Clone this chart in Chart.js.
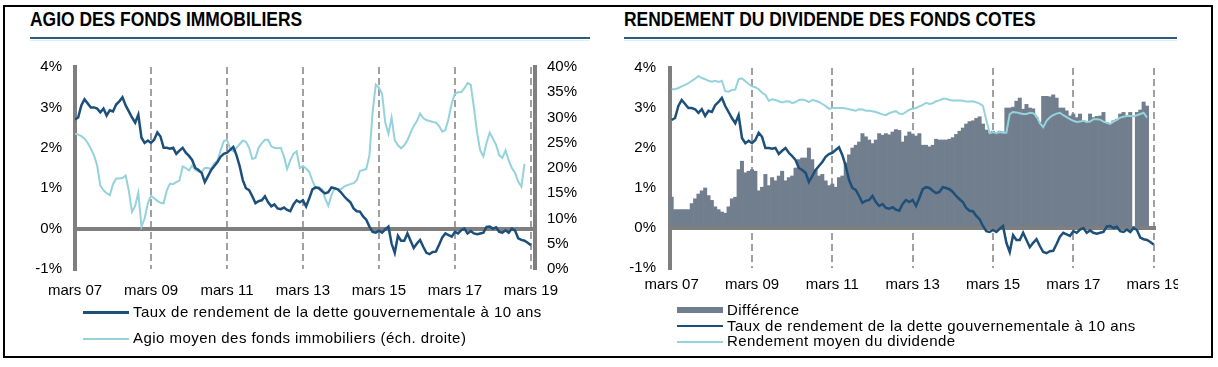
<!DOCTYPE html>
<html>
<head>
<meta charset="utf-8">
<script src="https://cdn.jsdelivr.net/npm/chart.js@4.4.0/dist/chart.umd.min.js"></script>
<style>
  body { margin: 0; background: #fff; width: 1218px; height: 367px; overflow: hidden; position: relative;
         font-family: "Liberation Sans", Arial, sans-serif; color: #000; }
  #frame { position: absolute; left: 3px; top: 5px; width: 1206px; height: 349px; border: 2px solid #000; }
  .title { position: absolute; top: 7px; font: bold 21px "Liberation Sans", Arial, sans-serif;
           transform: scaleX(0.83); transform-origin: left top; white-space: nowrap; }
  .rule { position: absolute; top: 37px; height: 2px; background: #2b5c7d; }
  .rule2 { position: absolute; top: 40px; height: 1px; background: #dcf0f3; }
  .box { position: absolute; overflow: hidden; }
  .leg { position: absolute; font-size: 15px; white-space: nowrap; line-height: 18px; letter-spacing: 0.45px; }
  .swatch { position: absolute; }
</style>
</head>
<body>
<div id="frame"></div>

<div class="title" style="left:30px">AGIO DES FONDS IMMOBILIERS</div>
<div class="rule" style="left:30px;width:560px"></div>
<div class="rule2" style="left:30px;width:560px"></div>
<div class="title" style="left:624px">RENDEMENT DU DIVIDENDE DES FONDS COTES</div>
<div class="rule" style="left:624px;width:553px"></div>
<div class="rule2" style="left:624px;width:553px"></div>

<div class="box" style="left:0;top:45px;width:600px;height:262px"><canvas id="agioChart" width="600" height="262"></canvas></div>
<div class="box" style="left:600px;top:45px;width:578px;height:262px"><canvas id="divChart" width="620" height="262"></canvas></div>

<!-- left legend -->
<div class="swatch" style="left:83px;top:311px;width:46px;height:3px;background:#1d4f7b"></div>
<div class="leg" style="left:133px;top:303px">Taux de rendement de la dette gouvernementale à 10 ans</div>
<div class="swatch" style="left:83px;top:338px;width:46px;height:2px;background:#94d2dc"></div>
<div class="leg" style="left:133px;top:329px">Agio moyen des fonds immobiliers (éch. droite)</div>

<!-- right legend -->
<div class="swatch" style="left:677px;top:307px;width:46px;height:6px;background:#717e8d"></div>
<div class="leg" style="left:727px;top:301px">Différence</div>
<div class="swatch" style="left:677px;top:325px;width:46px;height:2px;background:#1d4f7b"></div>
<div class="leg" style="left:727px;top:317px">Taux de rendement de la dette gouvernementale à 10 ans</div>
<div class="swatch" style="left:677px;top:341px;width:46px;height:2px;background:#94d2dc"></div>
<div class="leg" style="left:727px;top:332px">Rendement moyen du dividende</div>

<script>
// month index 0 = mars 07
const tickMonths = [0, 24, 48, 72, 96, 120, 144];
const tickLabels = ['mars 07', 'mars 09', 'mars 11', 'mars 13', 'mars 15', 'mars 17', 'mars 19'];

// taux 10 ans (%), monthly
const yield10 = [
  2.7, 2.75, 3.05, 3.2, 3.1, 3.0, 3.0, 2.97, 2.88, 2.97,
  2.8, 2.93, 2.9, 3.07, 3.15, 3.25, 3.05, 2.9, 2.75, 2.62,
  2.82, 2.25, 2.12, 2.18, 2.12, 2.2, 2.38, 2.28, 2.0, 2.0,
  1.98, 2.0, 1.85, 1.93, 2.0, 1.88, 1.8, 1.7, 1.5, 1.45,
  1.38, 1.15, 1.3, 1.45, 1.55, 1.65, 1.78, 1.85, 1.88, 1.95,
  2.02, 1.82, 1.55, 1.2, 1.0, 0.95, 0.8, 0.63, 0.68, 0.7,
  0.8, 0.65, 0.55, 0.6, 0.5, 0.48, 0.52, 0.46, 0.43, 0.6,
  0.7, 0.65, 0.7, 0.55, 0.75, 0.97, 1.02, 1.0, 0.93, 0.87,
  0.9, 1.02, 1.0, 0.97, 0.9, 0.8, 0.72, 0.65, 0.5, 0.43,
  0.42, 0.3, 0.22, 0.05, -0.08, -0.1, -0.05, -0.1, -0.02, 0.05,
  -0.37, -0.6, -0.18, -0.3, -0.3, -0.12, -0.3, -0.48, -0.37, -0.28,
  -0.45, -0.6, -0.63, -0.58, -0.57, -0.4, -0.22, -0.12, -0.16, -0.2,
  -0.08, -0.12, -0.04, 0.0, -0.12, -0.06, -0.12, -0.14, -0.12, -0.1,
  0.04, 0.05, 0.0, 0.03, -0.08, -0.1, -0.04, -0.1, 0.0, -0.05,
  -0.24, -0.28, -0.3, -0.35, -0.41
];

// agio moyen des fonds immobiliers (%), right scale
const agio = [
  26.8, 26.6, 26.3, 25.8, 25.0, 23.8, 22.5, 20.5, 16.5, 15.6,
  15.0, 14.6, 16.8, 17.9, 17.9, 18.0, 18.5, 15.5, 11.3, 12.5,
  15.1, 8.4, 10.0, 13.0, 14.5, 14.0, 13.5, 13.1, 13.0, 15.6,
  16.9, 16.8, 17.2, 17.5, 20.3, 20.0, 19.5, 20.5, 19.6, 19.3,
  19.2, 20.0, 20.0, 19.8, 20.9, 21.5, 23.5, 25.3, 25.6, 23.8,
  23.3, 24.0, 24.7, 25.4, 25.2, 24.0, 21.8, 22.0, 24.0, 24.9,
  25.6, 25.6, 24.3, 24.0, 23.9, 24.0, 22.3, 19.8, 21.5, 22.8,
  23.3, 20.0, 20.4, 19.9, 19.2, 17.5, 16.0, 16.2, 15.8, 14.0,
  12.5, 14.6, 16.0, 15.8, 15.8, 16.3, 16.6, 16.8, 17.0, 17.6,
  19.4, 19.6, 19.8, 22.5, 31.0, 36.5, 35.9, 34.7, 29.0, 26.8,
  30.0, 25.5, 24.5, 23.9, 24.5, 25.5, 27.0, 28.3, 29.3, 30.8,
  29.9, 29.5, 29.3, 29.1, 29.0, 28.3, 27.2, 27.5, 29.8, 32.8,
  34.7, 35.0, 35.0, 35.8, 36.8, 36.5, 32.0, 27.0, 23.5, 22.3,
  25.0, 27.0, 25.8, 24.6, 22.5, 22.0, 23.5, 21.5, 20.0, 19.0,
  17.3, 16.3, 20.8
];

// rendement moyen du dividende (%)
const dividend = [
  3.47, 3.47, 3.5, 3.54, 3.58, 3.62, 3.68, 3.73, 3.8, 3.75,
  3.72, 3.68, 3.66, 3.68, 3.65, 3.68, 3.42, 3.41, 3.45, 3.46,
  3.72, 3.74, 3.67, 3.6, 3.54, 3.52, 3.47, 3.38, 3.33, 3.18,
  3.22, 3.2, 3.17, 3.14, 3.16, 3.17, 3.12, 3.15, 3.2, 3.21,
  3.19, 3.15, 3.2, 3.18, 3.15, 3.1, 3.05, 2.98, 3.0, 3.0,
  3.0, 3.0, 2.99, 2.97, 2.95, 2.93, 2.97, 2.96, 2.93, 2.93,
  2.92, 2.9, 2.87, 2.84, 2.82, 2.87, 2.9, 2.92, 2.86, 2.85,
  2.9, 2.96, 2.98, 3.0, 3.04, 3.08, 3.13, 3.1, 3.12, 3.17,
  3.19, 3.23, 3.23, 3.2, 3.19, 3.19, 3.19, 3.18, 3.16, 3.16,
  3.17, 3.14, 3.11, 3.05, 2.7, 2.37, 2.4, 2.37, 2.4, 2.38,
  2.38, 2.85, 2.9, 2.89, 2.87, 2.85, 2.85, 2.88, 2.87, 2.8,
  2.62, 2.52, 2.68, 2.77, 2.82, 2.86, 2.88, 2.82, 2.77, 2.72,
  2.68, 2.65, 2.66, 2.68, 2.65, 2.66, 2.72, 2.72, 2.71, 2.66,
  2.63, 2.6, 2.66, 2.7, 2.76, 2.78, 2.8, 2.8, 2.79, 2.82,
  2.85, 2.88, 2.76
];

// différence (%), bars
const difference = [
  0.77, 0.46, 0.46, 0.46, 0.46, 0.46, 0.61, 0.73, 0.85, 0.93,
  1.0, 0.81, 0.69, 0.53, 0.46, 0.4, 0.37, 0.53, 0.73, 0.77,
  1.46, 1.67, 1.38, 1.42, 1.46, 1.42, 0.93, 1.02, 1.34, 1.06,
  1.26, 1.18, 1.3, 1.42, 1.18, 1.26, 1.3, 1.5, 1.71, 1.75,
  1.75, 2.0, 1.71, 1.46, 1.3, 1.34, 1.18, 1.06, 1.1, 1.02,
  1.26, 1.3, 1.63, 1.83, 2.0, 2.07, 2.15, 2.36, 2.28, 2.2,
  2.11, 2.2, 2.36, 2.32, 2.36, 2.33, 2.4, 2.46, 2.44, 2.15,
  2.3, 2.4, 2.35, 2.3, 2.36, 2.07, 2.07, 2.03, 2.07, 2.22,
  2.2, 2.2, 2.2, 2.22, 2.26, 2.34, 2.42, 2.5, 2.6, 2.66,
  2.68, 2.74, 2.78, 2.6, 2.45, 2.38, 2.42, 2.38, 2.42, 2.4,
  3.0, 3.0, 3.02, 3.17, 3.25, 2.97, 3.09, 3.0, 2.98, 2.76,
  2.64, 3.29, 3.29, 3.28, 3.33, 3.25, 3.0, 3.0, 2.93, 2.8,
  2.85, 2.76, 2.85, 2.68, 2.64, 2.85, 2.76, 2.79, 2.8, 2.89,
  2.64, 2.6, 2.68, 2.72, 2.85, 2.89, 2.8, 2.89, null, 2.89,
  2.95, 3.15, 3.05
];

const DARK = '#1d4f7b';
const LIGHT = '#94d2dc';
const BARS = '#717e8d';
const AXIS = '#7f7f7f';
const DASH = '#a0a0a0';

Chart.defaults.font.family = '"Liberation Sans", Arial, sans-serif';
Chart.defaults.font.size = 15;
Chart.defaults.color = '#000';

const toPoints = arr => arr.map((v, i) => ({ x: i, y: v }));

function xScale(min, max, labelPad, height) {
  return {
    type: 'linear',
    min: min,
    max: max,
    offset: false,
    afterBuildTicks: s => { s.ticks = tickMonths.map(v => ({ value: v })); },
    afterFit: s => { s.height = height; },
    ticks: {
      autoSkip: false,
      maxRotation: 0,
      padding: labelPad,
      callback: v => tickLabels[tickMonths.indexOf(v)]
    },
    grid: {
      offset: false,
      drawTicks: false,
      lineWidth: 2,
      color: c => (c.tick && c.tick.value === 0) ? 'rgba(0,0,0,0)' : DASH
    },
    border: { display: false, dash: [7, 4] }
  };
}

function pctAxis(width, pad) {
  return {
    position: 'left',
    min: -1,
    max: 4,
    afterFit: s => { s.width = width; },
    ticks: { stepSize: 1, padding: pad, callback: v => v + '%' },
    grid: {
      drawTicks: false,
      lineWidth: 4,
      color: c => (c.tick && c.tick.value === 0) ? AXIS : 'rgba(0,0,0,0)'
    },
    border: { display: true, color: AXIS, width: 4 }
  };
}

new Chart(document.getElementById('agioChart'), {
  type: 'line',
  data: {
    datasets: [
      {
        label: 'Taux de rendement de la dette gouvernementale à 10 ans',
        data: toPoints(yield10),
        borderColor: DARK, borderWidth: 2.5, pointRadius: 0, tension: 0,
        yAxisID: 'y', order: 1
      },
      {
        label: 'Agio moyen des fonds immobiliers (éch. droite)',
        data: toPoints(agio),
        borderColor: LIGHT, borderWidth: 2, pointRadius: 0, tension: 0,
        yAxisID: 'y1', order: 2
      }
    ]
  },
  options: {
    responsive: false,
    animation: false,
    devicePixelRatio: 1,
    layout: { padding: { top: 12, left: 0, right: 0, bottom: 0 } },
    plugins: { legend: { display: false }, tooltip: { enabled: false } },
    scales: {
      x: xScale(0, 145.3, 13, 38),
      y: pctAxis(75, 13),
      y1: {
        position: 'right',
        min: 0,
        max: 40,
        afterFit: s => { s.width = 65; },
        ticks: { stepSize: 5, padding: 12, callback: v => v + '%' },
        grid: { display: false, drawTicks: false },
        border: { display: true, color: AXIS, width: 4 }
      }
    }
  }
});

new Chart(document.getElementById('divChart'), {
  type: 'bar',
  data: {
    datasets: [
      {
        type: 'line',
        label: 'Taux de rendement de la dette gouvernementale à 10 ans',
        data: toPoints(yield10),
        borderColor: DARK, borderWidth: 2.5, pointRadius: 0, tension: 0, order: 1
      },
      {
        type: 'line',
        label: 'Rendement moyen du dividende',
        data: toPoints(dividend),
        borderColor: LIGHT, borderWidth: 2, pointRadius: 0, tension: 0, order: 2
      },
      {
        type: 'bar',
        label: 'Différence',
        data: toPoints(difference),
        backgroundColor: BARS,
        barPercentage: 1,
        categoryPercentage: 1,
        order: 3
      }
    ]
  },
  options: {
    responsive: false,
    animation: false,
    devicePixelRatio: 1,
    layout: { padding: { top: 18, left: 0, right: 64, bottom: 0 } },
    plugins: { legend: { display: false }, tooltip: { enabled: false } },
    scales: {
      x: xScale(-0.5, 144.7, 8, 39),
      y: pctAxis(70, 14)
    }
  }
});
</script>
</body>
</html>
